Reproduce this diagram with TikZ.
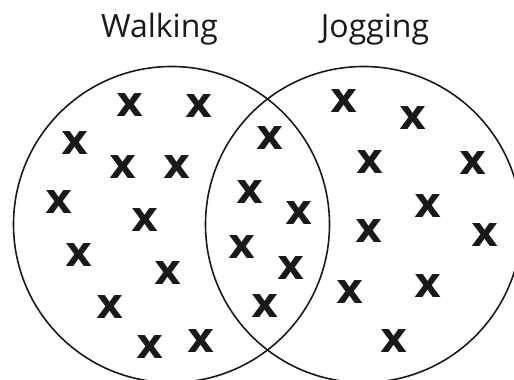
\documentclass[tikz,border=0pt]{standalone}
\usepackage{fontspec}
\setmainfont{Open Sans}
\newfontfamily\xfont{DejaVu Sans}
\begin{document}
\begin{tikzpicture}[x=1pt,y=-1pt,
  setcircle/.style={draw=black!90, circle, minimum size=316pt, inner sep=0pt, line width=1.6pt},
  setlabel/.style={anchor=base, inner sep=0pt, font=\fontsize{32}{36}\selectfont, text=black!90},
  xmark/.style={inner sep=0pt, font=\xfont\bfseries\fontsize{42}{44}\selectfont, text=black!90}]
\useasboundingbox (0,0) rectangle (514,380);
\node[setcircle] (walk) at (171.5,224.5) {};
\node[setcircle] (jog) at (363.5,224.5) {};
\node[setlabel] (walklabel) at (159.5,37) {Walking};
\node[setlabel] (joglabel) at (375,37) {Jogging};
\foreach \px/\py [count=\i] in {
  130/105, 199/106, 75/143, 123/167, 177/167, 59/202, 145/220, 79/255,
  168/273, 110/307, 150/347, 201/341,
  250/192, 299/213, 242/247, 291/268, 265/306, 270/138,
  344/101, 413/118, 370/162, 473/163, 428/206, 369/231, 485/235,
  350/292, 428/286, 394/341}
  \node[xmark] (x\i) at (\px,\py) {x};
\end{tikzpicture}
\end{document}
